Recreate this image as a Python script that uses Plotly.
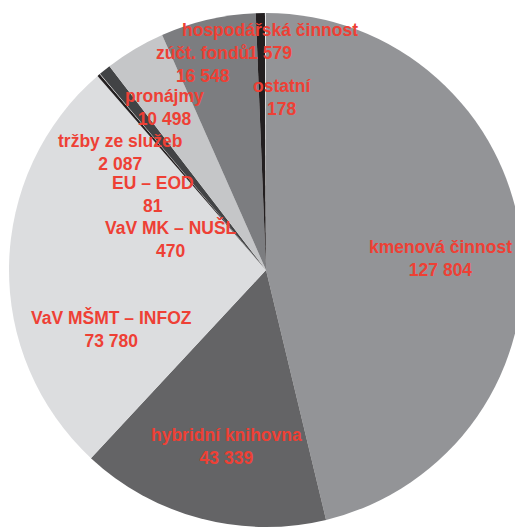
import plotly.graph_objects as go

# data (values in thousands CZK, clockwise from 12 o'clock)
labels = ['kmenová činnost', 'hybridní knihovna', 'VaV MŠMT – INFOZ', 'VaV MK – NUŠL',
          'EU – EOD', 'tržby ze služeb', 'pronájmy', 'zúčt. fondů',
          'hospodářská činnost', 'ostatní']
values = [127804, 43339, 73780, 470, 81, 2087, 10498, 16548, 1579, 178]

# styling
slice_colors = ['#939497', '#646466', '#dcdddf', '#231f20', '#ffffff',
                '#424345', '#c5c6c8', '#7c7d80', '#231f20', '#e6e7e8']
label_color = '#ee4035'

# figure sits inside the page's 8px body margin
W, H = 515, 520
OFF = 8
# label centres in window pixels (middle of the two-line block)
label_pos = [(440, 258), (226, 446), (111, 329), (171, 239), (153, 194),
             (120, 152), (164, 108), (202, 64), (270, 42), (282, 97)]


def fmt(v):
    return f'{v:,}'.replace(',', ' ')


fig = go.Figure()

fig.add_trace(
    go.Pie(
        labels=labels,
        values=values,
        sort=False,
        direction='clockwise',
        rotation=0,
        marker=dict(colors=slice_colors, line=dict(width=0)),
        textinfo='none',
        hoverinfo='label+value',
        showlegend=False,
        domain=dict(x=[1 / W, 1], y=[1 / H, 515 / H]),
    )
)

# two-line labels: name and value
annotations = []
for name, val, (px, py) in zip(labels, values, label_pos):
    annotations.append(dict(
        x=(px - OFF) / W, y=1 - (py - OFF) / H, xref='paper', yref='paper',
        text=f'{name}<br>{fmt(val)}', showarrow=False,
        xanchor='center', yanchor='middle', align='center', borderpad=0,
        font=dict(family='Liberation Sans, Arial, sans-serif', size=17.5,
                  color=label_color, weight='bold'),
    ))

fig.update_layout(
    width=W,
    height=H,
    margin=dict(l=0, r=0, t=0, b=0),
    paper_bgcolor='white',
    plot_bgcolor='white',
    annotations=annotations,
)

fig.write_html('out.html')
